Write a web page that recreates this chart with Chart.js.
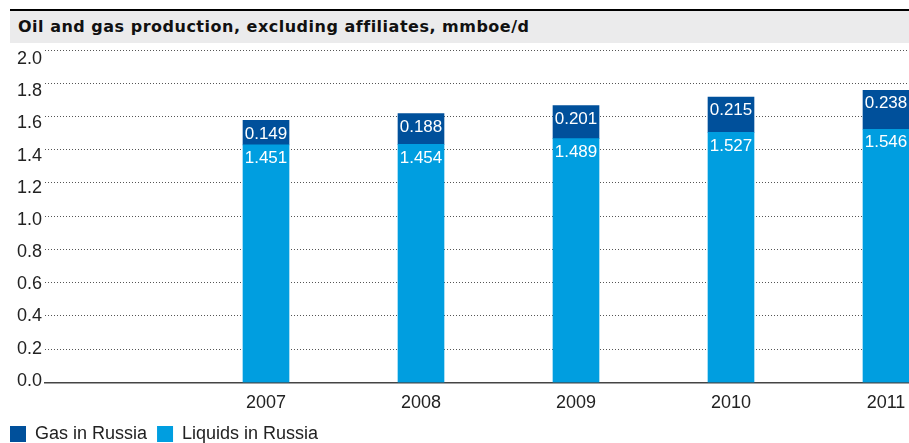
<!DOCTYPE html>
<html>
<head>
<meta charset="utf-8">
<script src="https://cdn.jsdelivr.net/npm/chart.js@4"></script>
<style>
  html, body { margin: 0; padding: 0; background: #fff; }
  #wrap { position: relative; width: 909px; height: 443px; overflow: hidden; }
  #titulo {
    position: absolute; left: 10px; top: 9px; right: 0; height: 32px;
    border-top: 2px solid #000; background: #ebebec;
    font: bold 16px "DejaVu Sans", sans-serif; letter-spacing: 0.5px; color: #111;
    line-height: 31px; padding-left: 8px; z-index: 2;
  }
  canvas { position: absolute; left: 0; top: 0; }
</style>
</head>
<body>
<div id="wrap">
  <div id="titulo">Oil and gas production, excluding affiliates, mmboe/d</div>
  <canvas id="grafico" width="909" height="443"></canvas>
</div>
<script>
// Datos de producción por año (mmboe/d)
const anios = [2007, 2008, 2009, 2010, 2011];
const liquidos = [1.451, 1.454, 1.489, 1.527, 1.546];
const gas = [0.149, 0.188, 0.201, 0.215, 0.238];
const ticksY = [0, 0.2, 0.4, 0.6, 0.8, 1.0, 1.2, 1.4, 1.6, 1.8, 2.0];

const azulClaro = '#009ee0';
const azulOscuro = '#00509b';
const fuente = '"Liberation Sans", Arial, sans-serif';

// Etiquetas blancas dentro de cada tramo de barra
const etiquetasBarras = {
    id: 'etiquetasBarras',
    afterDatasetsDraw(chart) {
        const ctx = chart.ctx;
        ctx.save();
        ctx.fillStyle = '#fff';
        ctx.font = '17px ' + fuente;
        ctx.textAlign = 'center';
        ctx.textBaseline = 'middle';
        chart.data.datasets.forEach((ds, i) => {
            chart.getDatasetMeta(i).data.forEach((barra, j) => {
                ctx.fillText(ds.data[j].y.toFixed(3), barra.x, barra.y + 13.5);
            });
        });
        ctx.restore();
    }
};

// quita el margen extra que Chart.js reserva para las etiquetas de los extremos
const sinMargen = (eje) => {
    eje.paddingTop = 0;
    eje.paddingBottom = 0;
    eje.paddingLeft = 0;
    eje.paddingRight = 0;
};

const ctx = document.getElementById('grafico').getContext('2d');

new Chart(ctx, {
    type: 'bar',
    data: {
        datasets: [
            {
                label: 'Liquids in Russia',
                data: anios.map((a, i) => ({ x: a, y: liquidos[i] })),
                backgroundColor: azulClaro,
                barThickness: 46
            },
            {
                label: 'Gas in Russia',
                data: anios.map((a, i) => ({ x: a, y: gas[i] })),
                backgroundColor: azulOscuro,
                barThickness: 46
            }
        ]
    },
    options: {
        responsive: false,
        animation: false,
        layout: { padding: { top: 50, left: 0, right: 0, bottom: -10 } },
        plugins: {
            tooltip: { enabled: false },
            legend: {
                position: 'bottom',
                align: 'start',
                reverse: true,
                labels: {
                    boxWidth: 16,
                    boxHeight: 16,
                    padding: 10,
                    color: '#222',
                    font: { family: fuente, size: 18 }
                }
            }
        },
        scales: {
            x: {
                type: 'linear',
                stacked: true,
                offset: false,
                min: 2005.5742,
                max: 2011.1484,
                afterBuildTicks: (eje) => { eje.ticks = anios.map(v => ({ value: v })); },
                afterFit: (eje) => { sinMargen(eje); eje.height -= 9; },
                grid: { display: false, drawTicks: false, offset: false },
                border: { display: true, color: '#444', width: 1.5 },
                ticks: {
                    padding: 10,
                    color: '#222',
                    font: { family: fuente, size: 18 },
                    callback: v => String(v)
                }
            },
            // eje de las barras
            y: {
                stacked: true,
                display: false,
                min: 0,
                max: 2.03
            },
            // líneas punteadas de la cuadrícula
            yRejilla: {
                position: 'left',
                min: 0,
                max: 2.0,
                afterBuildTicks: (eje) => { eje.ticks = ticksY.map(v => ({ value: v })); },
                afterFit: (eje) => { sinMargen(eje); eje.width = 0; },
                grid: {
                    color: '#555',
                    lineWidth: 1,
                    drawTicks: false
                },
                border: { display: false, dash: [1, 2] },
                ticks: { display: false }
            },
            // etiquetas del eje vertical
            yEtiquetas: {
                position: 'left',
                min: -0.0094,
                max: 2.0563,
                afterBuildTicks: (eje) => { eje.ticks = ticksY.map(v => ({ value: v })); },
                afterFit: (eje) => { sinMargen(eje); eje.width = 45; },
                grid: { display: false, drawTicks: false },
                border: { display: false },
                ticks: {
                    padding: 3,
                    color: '#222',
                    font: { family: fuente, size: 18 },
                    callback: v => v.toFixed(1)
                }
            }
        }
    },
    plugins: [etiquetasBarras]
});
</script>
</body>
</html>
